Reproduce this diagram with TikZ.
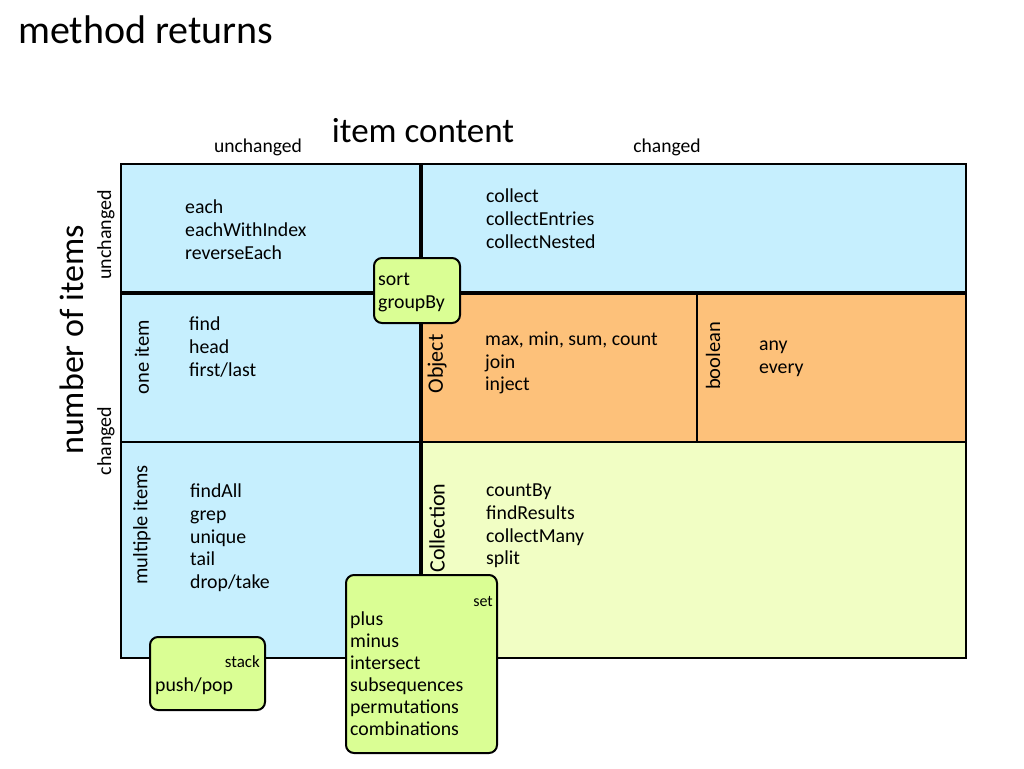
\documentclass[tikz,border=0pt]{standalone}
\usepackage{fontspec}
\setmainfont{Carlito}
\usetikzlibrary{positioning}
\definecolor{cellblue}{RGB}{198,239,254}
\definecolor{cellorange}{RGB}{253,193,122}
\definecolor{cellyellow}{RGB}{241,254,196}
\definecolor{stickygreen}{RGB}{218,254,148}
\newcommand{\fs}[1]{\fontsize{#1}{#1}\selectfont}

\begin{document}
\begin{tikzpicture}[x=1pt,y=-1pt]
             \tikzstyle{frame} = [draw=black,line width=2pt]
             \tikzstyle{divider} = [draw=black,line width=3.5pt]
             \tikzstyle{thin} = [draw=black,line width=2pt]
             \tikzstyle{methods} = [align=left,anchor=west,inner sep=0pt,font=\fontsize{19.8}{22.7}\selectfont]
             \tikzstyle{axis} = [inner sep=0pt,font=\fs{19.6}]
             \tikzstyle{side} = [rotate=90,inner sep=0pt,font=\fs{20.5}]
             \tikzstyle{tag} = [anchor=east,inner sep=0pt]
             \tikzstyle{sticky} = [draw=black,line width=2pt,rounded corners=8pt,fill=stickygreen,inner sep=0pt]
		\useasboundingbox (0,0) rectangle (1024,768);
		% Titles
		\node[anchor=west,inner sep=0pt,font=\fs{40}] (title) at (18,30) {method returns};
		\node[inner sep=0pt,font=\fs{35}] (content) at (423,131) {item content};
		\node[inner sep=0pt,font=\fs{34},rotate=90] (count) at (72,340) {number of items};
		\node[axis] (colunch) at (258,147) {unchanged};
		\node[axis] (colch) at (667,147) {changed};
		\node[side,font=\fs{20}] (rowunch) at (106,235) {unchanged};
		\node[side,font=\fs{20}] (rowch) at (106,441) {changed};
		% Cells
		\fill[cellblue] (121,164) rectangle (421,658);
		\fill[cellblue] (421,164) rectangle (966,293);
		\fill[cellorange] (421,293) rectangle (966,442);
		\fill[cellyellow] (421,442) rectangle (966,658);
		\draw[thin] (121,442) -- (966,442);
		\draw[thin] (697,293) -- (697,442);
		\draw[divider] (121,293) -- (966,293);
		\draw[divider] (421,164) -- (421,658);
		\draw[frame] (121,164) rectangle (966,658);
		% Row labels
		\node[side] (oneitem) at (142,357) {one item};
		\node[side] (multi) at (142,525) {multiple items};
		\node[side,font=\fs{22}] (object) at (437,364) {Object};
		\node[side] (bool) at (713,356) {boolean};
		\node[side,font=\fs{22}] (coll) at (437,528) {Collection};
		% Methods
		\node[methods] (iterate) at (185,229.5) {each\\eachWithIndex\\reverseEach};
		\node[methods] (transform) at (486,218.5) {collect\\collectEntries\\collectNested};
		\node[methods] (single) at (189,347) {find\\head\\first/last};
		\node[methods] (reduce) at (485,363) {max, min, sum, count\\join\\inject};
		\node[methods] (test) at (759,358.5) {any\\every};
		\node[methods] (filter) at (190,538) {findAll\\grep\\unique\\tail\\drop/take};
		\node[methods] (group) at (486,526) {countBy\\findResults\\collectMany\\split};
		% Notes
		\node[sticky,minimum width=86,minimum height=65] (sortnote) at (417,290.5) {};
		\node[methods] (sort) at (378,292.5) {sort\\groupBy};
		\node[sticky,minimum width=115,minimum height=73] (stacknote) at (207.5,673.5) {};
		\node[tag,font=\fs{17}] (stack) at (260,662) {stack};
		\node[methods] (push) at (155,686) {push/pop};
		\node[sticky,minimum width=151,minimum height=178] (setnote) at (421.5,664) {};
		\node[tag,font=\fs{16}] (set) at (493,601) {set};
		\node[methods,font=\fontsize{19.8}{22}\selectfont] (setops) at (350,674) {plus\\minus\\intersect\\subsequences\\permutations\\combinations};
\end{tikzpicture}
\end{document}
